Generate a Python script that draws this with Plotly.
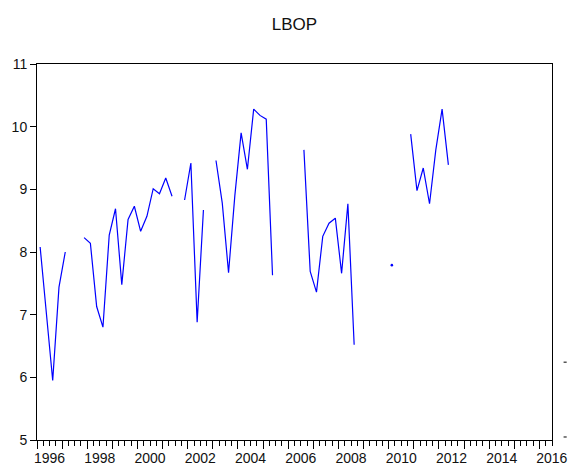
import plotly.graph_objects as go

# Quarterly observations 1996Q1 .. 2016Q2 (None = missing)
start_year = 1996
n_obs = 82
lbop = [
    8.08, 6.95, 5.95, 7.44, 8.00, None, None, 8.23,   # 1996Q1-1997Q4
    8.14, 7.13, 6.80, 8.27, 8.69, 7.48, 8.52, 8.73,   # 1998-1999
    8.33, 8.57, 9.01, 8.93, 9.18, 8.89, None, 8.83,   # 2000-2001
    9.42, 6.88, 8.67, None, 9.46, 8.78, 7.67, 8.90,   # 2002-2003
    9.90, 9.32, 10.28, 10.18, 10.12, 7.63, None, None, # 2004-2005
    None, None, 9.63, 7.69, 7.36, 8.25, 8.46, 8.54,   # 2006-2007
    7.66, 8.77, 6.52, None, None, None, None, None,   # 2008-2009
    7.79, None, None, 9.88, 8.98, 9.34, 8.77, 9.63,   # 2010-2011
    10.28, 9.39,                                       # 2012Q1-Q2
]
lbop += [None] * (n_obs - len(lbop))

label_years = list(range(1996, 2017, 2))
y_ticks = [5, 6, 7, 8, 9, 10, 11]

# observation positions: centre of each quarter
xs = [start_year + i / 4 + 0.125 for i in range(n_obs)]

# isolated observations (no neighbours) are drawn as dots
iso_x, iso_y = [], []
for i, v in enumerate(lbop):
    if v is None:
        continue
    prev_v = lbop[i - 1] if i > 0 else None
    next_v = lbop[i + 1] if i + 1 < n_obs else None
    if prev_v is None and next_v is None:
        iso_x.append(xs[i])
        iso_y.append(v)

x_range = [start_year, start_year + n_obs / 4]

fig = go.Figure()
fig.add_trace(go.Scatter(x=xs, y=lbop, mode="lines",
                         line=dict(color="#0000FF", width=1.2),
                         connectgaps=False, showlegend=False))
fig.add_trace(go.Scatter(x=iso_x, y=iso_y, mode="markers",
                         marker=dict(color="#0000FF", size=2.6, line=dict(width=0)),
                         showlegend=False))
# dummy trace for the label axis
fig.add_trace(go.Scatter(x=[x_range[0]], y=[None], xaxis="x2",
                         mode="lines", showlegend=False, hoverinfo="skip"))

font = dict(family="Liberation Sans, Arial, sans-serif", size=14, color="#111")

fig.update_layout(
    width=569, height=466,
    margin=dict(l=37, r=17, t=64, b=26, autoexpand=False),
    paper_bgcolor="white", plot_bgcolor="white",
    font=font,
    title=dict(text="LBOP", x=0.5, xref="paper", xanchor="center",
               y=1 - 24 / 466, yref="container", yanchor="middle",
               font=dict(family="Liberation Sans, Arial, sans-serif", size=17, color="#111")),
    xaxis=dict(range=x_range, showgrid=False, zeroline=False,
               showline=True, mirror=True, linecolor="black", linewidth=1,
               tickmode="array", tickvals=list(range(1996, 2017)),
               ticks="outside", ticklen=8, tickcolor="black", tickwidth=1,
               showticklabels=False,
               minor=dict(tickmode="array",
                          tickvals=[start_year + q / 4 for q in range(0, n_obs + 1)],
                          ticks="outside", ticklen=5, tickcolor="black", tickwidth=1)),
    xaxis2=dict(range=x_range, overlaying="x", side="bottom", anchor="y",
                showgrid=False, zeroline=False, showline=False,
                tickmode="array",
                tickvals=[min(yr + 0.5, x_range[1] - 0.01) for yr in label_years],
                ticktext=[str(yr) for yr in label_years],
                ticks="outside", ticklen=5, tickcolor="rgba(0,0,0,0)",
                tickfont=font),
    yaxis=dict(range=[5, 11], showgrid=False, zeroline=False,
               showline=True, mirror=True, linecolor="black", linewidth=1,
               tickmode="array", tickvals=y_ticks,
               ticks="outside", ticklen=6, tickcolor="black", tickwidth=1,
               tickfont=font),
    shapes=[
        dict(type="line", xref="paper", yref="paper",
             x0=1.0225, x1=1.0285, y0=0.207, y1=0.207,
             line=dict(color="black", width=1)),
        dict(type="line", xref="paper", yref="paper",
             x0=1.0225, x1=1.0285, y0=0.008, y1=0.008,
             line=dict(color="black", width=1)),
    ],
)

fig.write_html("out.html",
               config={"displayModeBar": False},
               post_script="document.body.style.margin='0';document.body.style.overflow='hidden';")
